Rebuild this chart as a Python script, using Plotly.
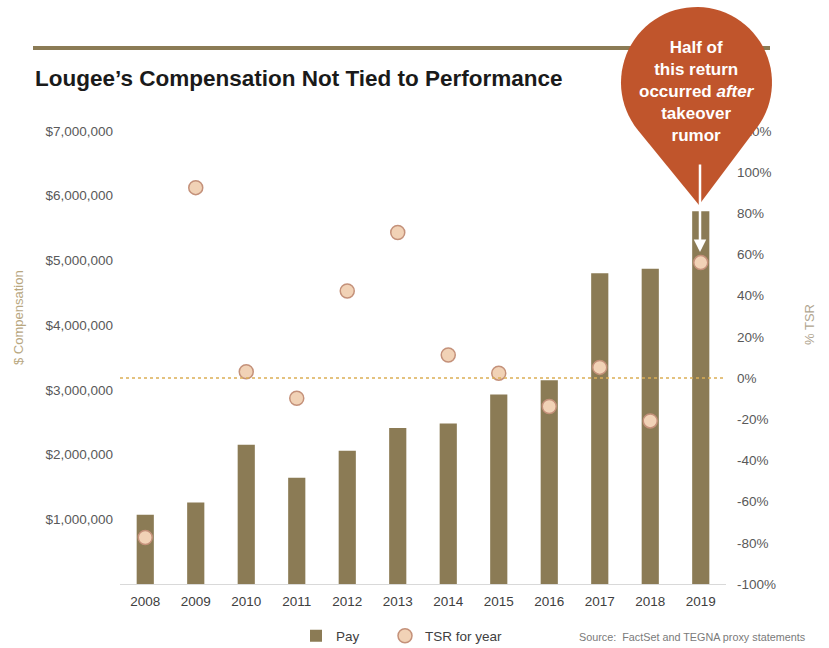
import numpy as np
import plotly.graph_objects as go

years = ["2008", "2009", "2010", "2011", "2012", "2013",
         "2014", "2015", "2016", "2017", "2018", "2019"]
pay = [1070000, 1260000, 2150000, 1640000, 2060000, 2410000,
       2480000, 2930000, 3150000, 4800000, 4870000, 5760000]
tsr = [-77.4, 92.5, 3.1, -9.8, 42.3, 70.7,
       11.2, 2.4, -13.8, 5.2, -20.8, 56.1]

pay_ticks = [1000000, 2000000, 3000000, 4000000, 5000000, 6000000, 7000000]
tsr_ticks = [-100, -80, -60, -40, -20, 0, 20, 40, 60, 80, 100, 120]

W, H = 829, 648
L, R, T, B = 120, 726, 131, 584


def px(x):
    return (x - L) / (R - L)


def py(y):
    return (B - y) / (B - T)


fig = go.Figure()
fig.add_trace(go.Bar(
    x=years, y=pay, name="Pay",
    marker=dict(color="#8b7b55", line=dict(width=0)),
    width=0.34, legend="legend",
))
fig.add_trace(go.Scatter(
    x=years, y=tsr, name="TSR for year", mode="markers", yaxis="y2",
    marker=dict(size=14, color="#f1d2b6", line=dict(color="#c4917a", width=1.5)),
    legend="legend2",
))

# teardrop callout
cx, cy, r = 696.5, 82.5, 75.5
tip = (699, 205)
d = np.hypot(tip[0] - cx, tip[1] - cy)
th = np.arccos(r / d)
base = np.arctan2(tip[1] - cy, tip[0] - cx)
angs = np.linspace(base + th, base + 2 * np.pi - th, 60)
pts = [tip] + [(cx + r * np.cos(a), cy + r * np.sin(a)) for a in angs]
path = "M " + " L ".join(f"{px(x):.4f},{py(y):.4f}" for x, y in pts) + " Z"

shapes = [
    dict(type="line", xref="paper", yref="paper", x0=px(33), x1=px(770),
         y0=py(48), y1=py(48), line=dict(color="#8b7b55", width=4), layer="above"),
    dict(type="line", xref="paper", yref="y2", x0=0, x1=1, y0=0, y1=0,
         line=dict(color="#dcae55", width=1.5, dash="dot"), layer="above"),
    dict(type="path", xref="paper", yref="paper", path=path,
         fillcolor="#c0552c", line=dict(width=0), layer="above"),
]

annotations = [
    dict(xref="paper", yref="paper", x=px(33), y=py(78), xanchor="left", yanchor="middle",
         text="<b>Lougee’s Compensation Not Tied to Performance</b>", showarrow=False,
         font=dict(family="Liberation Sans, Arial", size=22.5, color="#1a1a1a")),
    dict(xref="paper", yref="paper", x=px(697), y=py(91), xanchor="center", yanchor="middle",
         text="<b>Half of<br>this return<br>occurred <i>after</i><br>takeover<br>rumor</b>",
         showarrow=False,
         font=dict(family="Liberation Sans Narrow, Arial Narrow, Liberation Sans", size=17, color="white")),
    dict(xref="paper", yref="paper", x=px(700), y=py(252), ax=0, ay=-89,
         text="", showarrow=True, arrowhead=2, arrowsize=1, arrowwidth=2.5, arrowcolor="white"),
    dict(xref="paper", yref="paper", x=px(18), y=py(318), xanchor="center", yanchor="middle",
         text="$ Compensation", textangle=-90, showarrow=False,
         font=dict(family="Liberation Sans, Arial", size=13, color="#b8a77f")),
    dict(xref="paper", yref="paper", x=px(809), y=py(325), xanchor="center", yanchor="middle",
         text="% TSR", textangle=-90, showarrow=False,
         font=dict(family="Liberation Sans, Arial", size=13, color="#b0a58f")),
    dict(xref="paper", yref="paper", x=px(808), y=py(637), xanchor="right", yanchor="middle",
         text="Source:  FactSet and TEGNA proxy statements", showarrow=False,
         font=dict(family="Liberation Sans, Arial", size=10.8, color="#7a7a7a")),
]

legend_style = dict(orientation="h", yanchor="middle", xanchor="left",
                    font=dict(size=13.5, color="#404040"), bgcolor="rgba(0,0,0,0)")

fig.update_layout(
    width=W, height=H,
    margin=dict(l=L, r=W - R, t=T, b=H - B, autoexpand=False),
    paper_bgcolor="white", plot_bgcolor="white",
    font=dict(family="Liberation Sans, Arial", size=13.5, color="#595959"),
    showlegend=True,
    legend=dict(x=px(296), y=py(636), **legend_style),
    legend2=dict(x=px(385), y=py(636), **legend_style),
    xaxis=dict(type="category", showline=True, linecolor="#d9d9d9", linewidth=1,
               showgrid=False, ticks="", tickfont=dict(color="#404040", size=13.5),
               range=[-0.5, 11.5], ticklabelstandoff=5),
    yaxis=dict(range=[0, 7000000], tickvals=pay_ticks,
               ticktext=[f"${v:,.0f}" for v in pay_ticks],
               showgrid=False, zeroline=False, showline=False, ticks="",
               tickfont=dict(color="#595959", size=13.5), ticklabelstandoff=6),
    yaxis2=dict(range=[-100, 120], tickvals=tsr_ticks,
                ticktext=[f"{v}%" for v in tsr_ticks],
                overlaying="y", side="right", showgrid=False, zeroline=False,
                showline=False, ticks="", tickfont=dict(color="#595959", size=13.5),
                ticklabelstandoff=10),
    shapes=shapes,
    annotations=annotations,
)

fig.write_html("out.html", config=dict(displayModeBar=False),
               post_script="document.body.style.margin='0';")
